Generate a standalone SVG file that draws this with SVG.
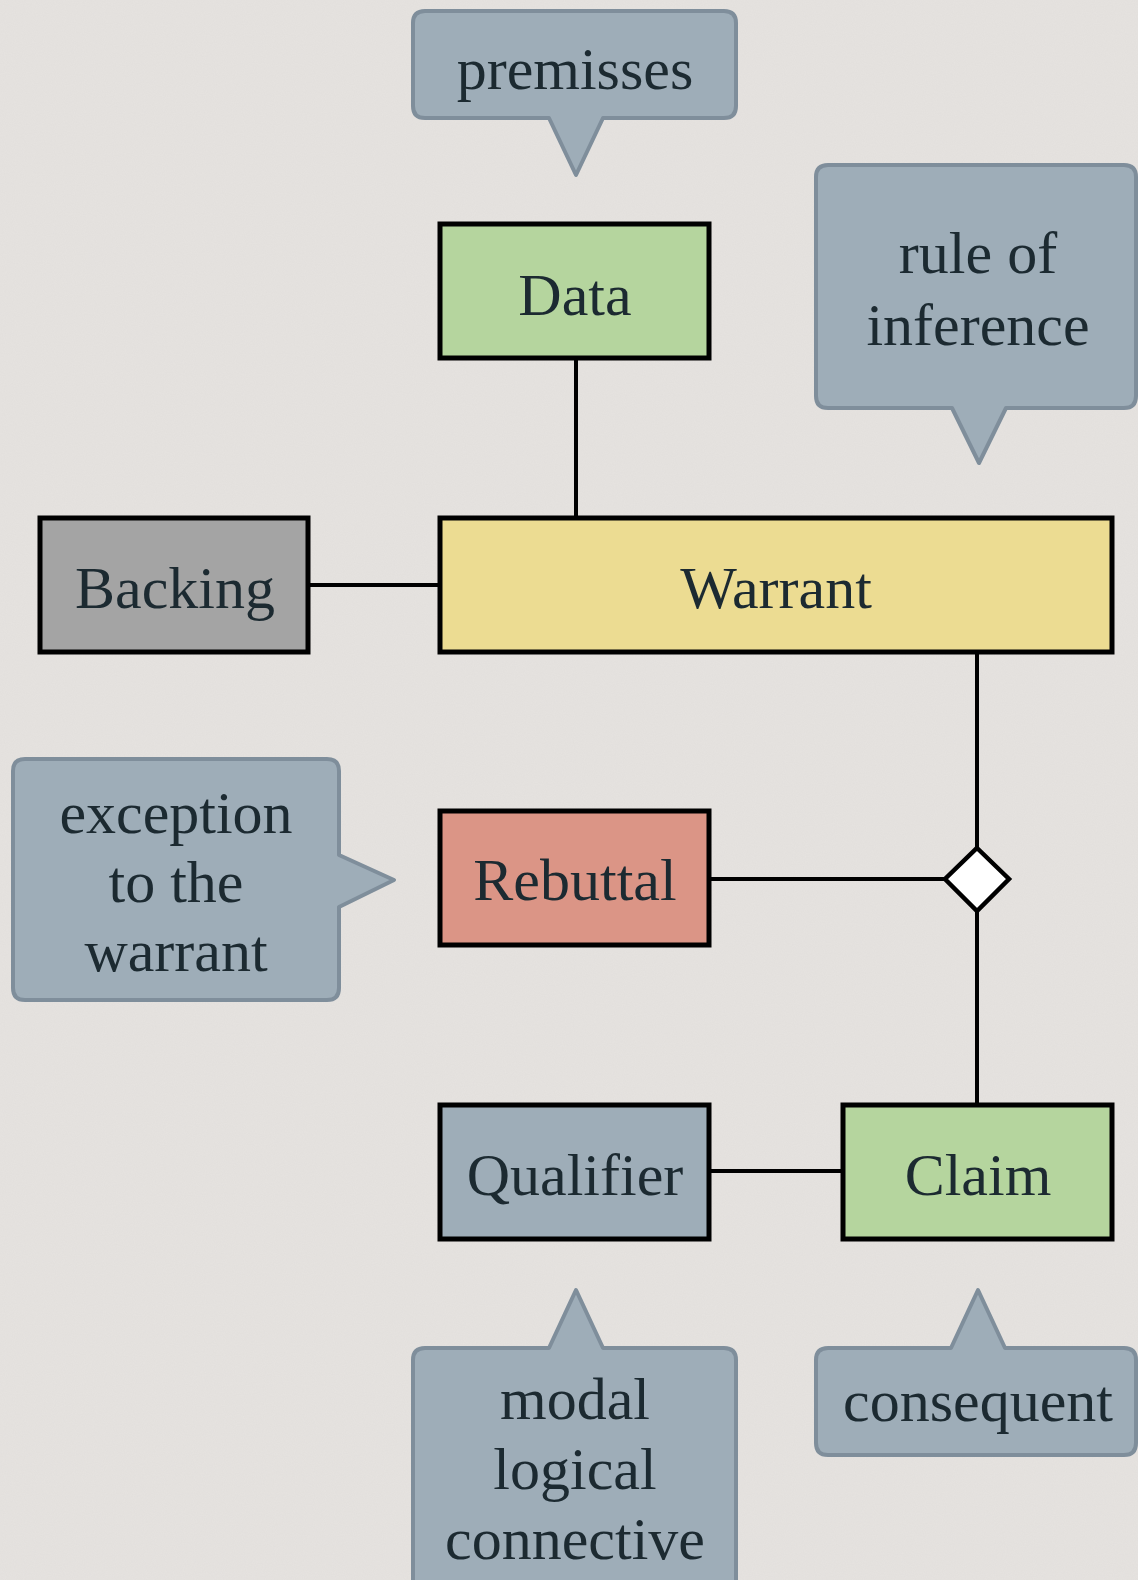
<svg xmlns="http://www.w3.org/2000/svg" width="1138" height="1580" viewBox="0 0 1138 1580">
<defs>
<filter id="noise" x="0" y="0" width="100%" height="100%">
<feTurbulence type="fractalNoise" baseFrequency="0.9" numOctaves="2" seed="3" result="n"/>
<feColorMatrix type="matrix" values="0 0 0 0 0.55  0 0 0 0 0.53  0 0 0 0 0.52  0 0 0 0.12 0"/>
</filter>
<style>
.node{stroke:#000;stroke-width:5}
.callout{fill:#9eadb8;stroke:#7f8e9b;stroke-width:4;stroke-linejoin:round}
.t{font-family:"Liberation Serif","Times New Roman",serif;font-size:60px;fill:#1c2a31;text-anchor:middle}
.conn{stroke:#000;stroke-width:4;fill:none}
</style>
</defs>
<rect width="1138" height="1580" fill="#e6e3e0"/>
<rect width="1138" height="1580" filter="url(#noise)"/>

<g id="connectors">
<line class="conn" x1="576" y1="358" x2="576" y2="518"/>
<line class="conn" x1="308" y1="585" x2="440" y2="585"/>
<line class="conn" x1="977" y1="652" x2="977" y2="848"/>
<line class="conn" x1="709" y1="879" x2="945" y2="879"/>
<line class="conn" x1="977" y1="911" x2="977" y2="1105"/>
<line class="conn" x1="709" y1="1171" x2="843" y2="1171"/>
<polygon id="diamond" points="977,848 1009,879 977,911 945,879" fill="#fff" stroke="#000" stroke-width="4.5"/>
</g>

<g id="callout-premisses">
<path class="callout" d="M425 11H724Q736 11 736 23V106Q736 118 724 118H603L576 175L549 118H425Q413 118 413 106V23Q413 11 425 11Z"/>
<text class="t" x="575" y="89">premisses</text>
</g>

<g id="callout-rule">
<path class="callout" d="M828 165H1124Q1136 165 1136 177V396Q1136 408 1124 408H1006L979 463L952 408H828Q816 408 816 396V177Q816 165 828 165Z"/>
<text class="t" x="978" y="273">rule of</text>
<text class="t" x="978" y="345">inference</text>
</g>

<g id="callout-exception">
<path class="callout" d="M25 759H327Q339 759 339 771V855L394 880L339 907V988Q339 1000 327 1000H25Q13 1000 13 988V771Q13 759 25 759Z"/>
<text class="t" x="176" y="833">exception</text>
<text class="t" x="176" y="902">to the</text>
<text class="t" x="176" y="971">warrant</text>
</g>

<g id="callout-modal">
<path class="callout" d="M425 1348H549L576 1290L603 1348H724Q736 1348 736 1360V1600H413V1360Q413 1348 425 1348Z"/>
<text class="t" x="575" y="1419">modal</text>
<text class="t" x="575" y="1489">logical</text>
<text class="t" x="575" y="1559">connective</text>
</g>

<g id="callout-consequent">
<path class="callout" d="M828 1348H951L978 1290L1005 1348H1124Q1136 1348 1136 1360V1443Q1136 1455 1124 1455H828Q816 1455 816 1443V1360Q816 1348 828 1348Z"/>
<text class="t" x="978" y="1421">consequent</text>
</g>

<g id="node-data">
<rect class="node" x="440" y="224" width="269" height="134" fill="#b5d59e"/>
<text class="t" x="575" y="315">Data</text>
</g>

<g id="node-backing">
<rect class="node" x="40" y="518" width="268" height="134" fill="#a4a4a4"/>
<text class="t" x="175" y="608">Backing</text>
</g>

<g id="node-warrant">
<rect class="node" x="440" y="518" width="672" height="134" fill="#ecdc92"/>
<text class="t" x="776" y="608">Warrant</text>
</g>

<g id="node-rebuttal">
<rect class="node" x="440" y="811" width="269" height="134" fill="#db9586"/>
<text class="t" x="575" y="900">Rebuttal</text>
</g>

<g id="node-qualifier">
<rect class="node" x="440" y="1105" width="269" height="134" fill="#9eadb8"/>
<text class="t" x="575" y="1195">Qualifier</text>
</g>

<g id="node-claim">
<rect class="node" x="843" y="1105" width="269" height="134" fill="#b5d59e"/>
<text class="t" x="978" y="1195">Claim</text>
</g>
</svg>
